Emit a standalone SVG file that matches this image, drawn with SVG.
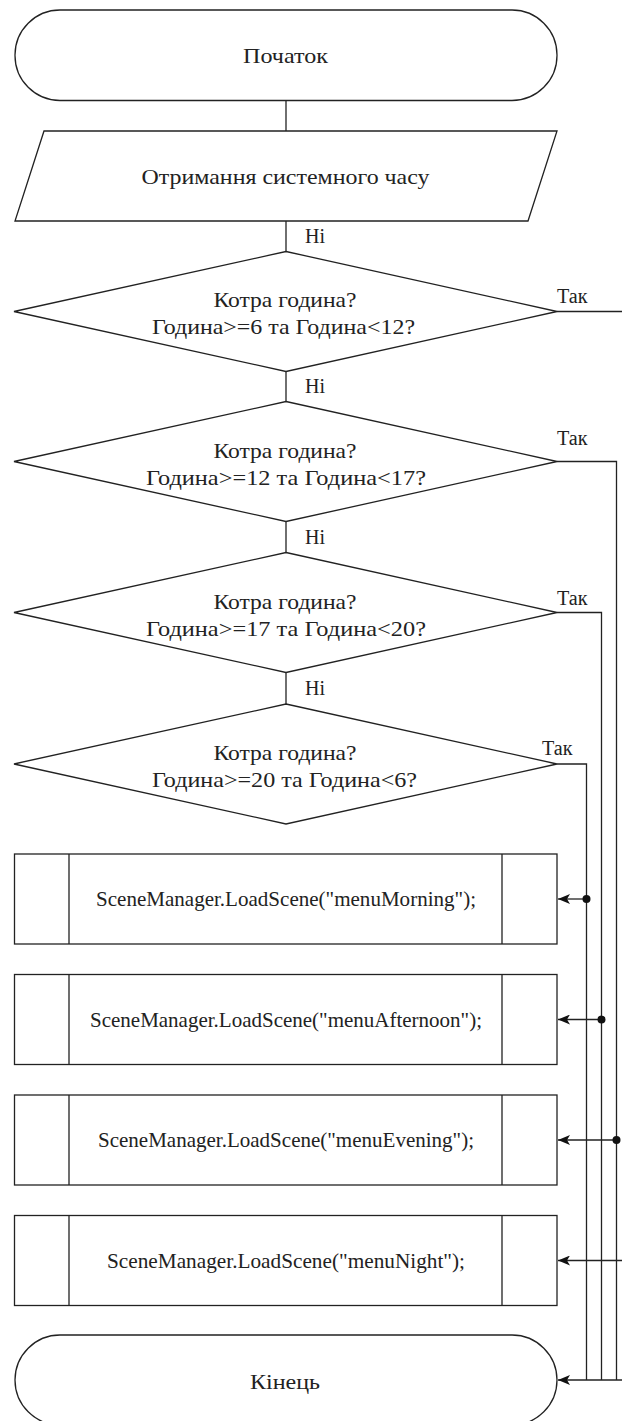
<svg xmlns="http://www.w3.org/2000/svg" width="622" height="1421" viewBox="0 0 622 1421" font-family="Liberation Serif, Times New Roman, serif">
<style>
.s{fill:#fff;stroke:#222;stroke-width:1.3}
.t{font-size:21px;fill:#222;text-anchor:middle}
.l{font-size:20px;fill:#222}
.c{fill:none;stroke:#222;stroke-width:1.3}
</style>
<defs>
<marker id="a" viewBox="0 0 12 10" refX="12" refY="5" markerWidth="12" markerHeight="10" markerUnits="userSpaceOnUse" orient="auto">
<path d="M0,0 L12,5 L0,10 L3,5 Z" fill="#111"/>
</marker>
</defs>
<rect width="622" height="1421" fill="#fff"/>
<g id="connectors">
<path class="c" d="M286,100.5 V131"/>
<path class="c" d="M286,221 V251.5"/>
<path class="c" d="M286,371.5 V401.5"/>
<path class="c" d="M286,521.5 V552.5"/>
<path class="c" d="M286,672.5 V704"/>
<path class="c" d="M557,311.5 H640 V1380"/>
<path class="c" d="M557,461.5 H616.5 V1380"/>
<path class="c" d="M557,612.5 H601.5 V1380"/>
<path class="c" d="M557,764 H586.5 V1380"/>
<path class="c" d="M586.5,899 H558" marker-end="url(#a)"/>
<path class="c" d="M601.5,1019.5 H558" marker-end="url(#a)"/>
<path class="c" d="M616.5,1140 H558" marker-end="url(#a)"/>
<path class="c" d="M640,1260.5 H558" marker-end="url(#a)"/>
<path class="c" d="M640,1380 H558" marker-end="url(#a)"/>
<circle cx="586.5" cy="899" r="4" fill="#111"/>
<circle cx="601.5" cy="1019.5" r="4" fill="#111"/>
<circle cx="616.5" cy="1140" r="4" fill="#111"/>
<text class="l" font-family="Liberation Serif, serif" x="305" y="243" textLength="20" lengthAdjust="spacingAndGlyphs">Ні</text>
<text class="l" font-family="Liberation Serif, serif" x="305" y="393" textLength="20" lengthAdjust="spacingAndGlyphs">Ні</text>
<text class="l" font-family="Liberation Serif, serif" x="305" y="544" textLength="20" lengthAdjust="spacingAndGlyphs">Ні</text>
<text class="l" font-family="Liberation Serif, serif" x="305" y="695" textLength="20" lengthAdjust="spacingAndGlyphs">Ні</text>
<text class="l" font-family="Liberation Serif, serif" x="557" y="303" textLength="30.5" lengthAdjust="spacingAndGlyphs">Так</text>
<text class="l" font-family="Liberation Serif, serif" x="557" y="445" textLength="30.5" lengthAdjust="spacingAndGlyphs">Так</text>
<text class="l" font-family="Liberation Serif, serif" x="557" y="605" textLength="30.5" lengthAdjust="spacingAndGlyphs">Так</text>
<text class="l" font-family="Liberation Serif, serif" x="542" y="755" textLength="30.5" lengthAdjust="spacingAndGlyphs">Так</text>
</g>
<g id="start">
<rect class="s" x="15" y="10" width="542" height="90.5" rx="45" ry="45"/>
<text class="t" font-family="Liberation Serif, serif" x="285.5" y="63" textLength="85" lengthAdjust="spacingAndGlyphs">Початок</text>
</g>
<g id="input">
<path class="s" d="M44,131 H557 L528,221 H15 Z"/>
<text class="t" font-family="Liberation Serif, serif" x="285.5" y="184" textLength="288" lengthAdjust="spacingAndGlyphs">Отримання системного часу</text>
</g>
<g id="dec1">
<path class="s" d="M286,251.5 L557,311.5 L286,371.5 L14,311.5 Z"/>
<text class="t" font-family="Liberation Serif, serif" x="285" y="307" textLength="143" lengthAdjust="spacingAndGlyphs">Котра година?</text>
<text class="t" font-family="Liberation Serif, serif" x="283.5" y="334" textLength="263" lengthAdjust="spacingAndGlyphs">Година&gt;=6 та Година&lt;12?</text>
</g>
<g id="dec2">
<path class="s" d="M286,401.5 L557,461.5 L286,521.5 L14,461.5 Z"/>
<text class="t" font-family="Liberation Serif, serif" x="285" y="458" textLength="143" lengthAdjust="spacingAndGlyphs">Котра година?</text>
<text class="t" font-family="Liberation Serif, serif" x="286" y="485" textLength="280" lengthAdjust="spacingAndGlyphs">Година&gt;=12 та Година&lt;17?</text>
</g>
<g id="dec3">
<path class="s" d="M286,552.5 L557,612.5 L286,672.5 L14,612.5 Z"/>
<text class="t" font-family="Liberation Serif, serif" x="285" y="609" textLength="143" lengthAdjust="spacingAndGlyphs">Котра година?</text>
<text class="t" font-family="Liberation Serif, serif" x="286" y="636" textLength="280" lengthAdjust="spacingAndGlyphs">Година&gt;=17 та Година&lt;20?</text>
</g>
<g id="dec4">
<path class="s" d="M286,704 L557,764 L286,824 L14,764 Z"/>
<text class="t" font-family="Liberation Serif, serif" x="285" y="760" textLength="143" lengthAdjust="spacingAndGlyphs">Котра година?</text>
<text class="t" font-family="Liberation Serif, serif" x="284.5" y="787" textLength="265" lengthAdjust="spacingAndGlyphs">Година&gt;=20 та Година&lt;6?</text>
</g>
<g id="morning">
<rect class="s" x="14.5" y="854" width="542.5" height="90"/>
<path class="c" d="M69,854 V944 M502,854 V944"/>
<text class="t" font-family="Liberation Serif, serif" x="286" y="906" textLength="380" lengthAdjust="spacingAndGlyphs">SceneManager.LoadScene("menuMorning");</text>
</g>
<g id="afternoon">
<rect class="s" x="14.5" y="974.5" width="542.5" height="90"/>
<path class="c" d="M69,974.5 V1064.5 M502,974.5 V1064.5"/>
<text class="t" font-family="Liberation Serif, serif" x="286" y="1026.5" textLength="392" lengthAdjust="spacingAndGlyphs">SceneManager.LoadScene("menuAfternoon");</text>
</g>
<g id="evening">
<rect class="s" x="14.5" y="1095" width="542.5" height="90"/>
<path class="c" d="M69,1095 V1185 M502,1095 V1185"/>
<text class="t" font-family="Liberation Serif, serif" x="286" y="1147" textLength="376" lengthAdjust="spacingAndGlyphs">SceneManager.LoadScene("menuEvening");</text>
</g>
<g id="night">
<rect class="s" x="14.5" y="1215.5" width="542.5" height="90"/>
<path class="c" d="M69,1215.5 V1305.5 M502,1215.5 V1305.5"/>
<text class="t" font-family="Liberation Serif, serif" x="286" y="1267.5" textLength="358" lengthAdjust="spacingAndGlyphs">SceneManager.LoadScene("menuNight");</text>
</g>
<g id="end">
<rect class="s" x="15" y="1335" width="542" height="90" rx="45" ry="45"/>
<text class="t" font-family="Liberation Serif, serif" x="285" y="1389" textLength="70" lengthAdjust="spacingAndGlyphs">Кінець</text>
</g>
</svg>
